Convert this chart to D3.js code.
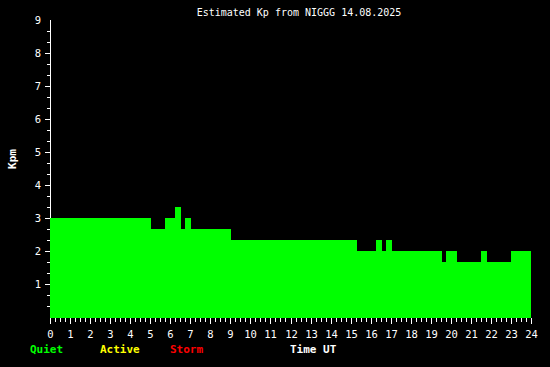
<!DOCTYPE html>
<html><head><meta charset="utf-8">
<script src="https://cdn.jsdelivr.net/npm/d3@7"></script>
<style>
html,body{margin:0;padding:0;background:#000;}
svg{display:block;}
</style></head>
<body>
<script>
// Step breakpoints (hours UT) and Kp value of each step
const stepStarts = [0, 5, 5.75, 6.25, 6.5, 6.75, 7, 9, 15.25, 16.25, 16.5, 16.75, 17, 19.5, 19.75, 20.25, 21.5, 21.75, 23];
const stepEnds   = [5, 5.75, 6.25, 6.5, 6.75, 7, 9, 15.25, 16.25, 16.5, 16.75, 17, 19.5, 19.75, 20.25, 21.5, 21.75, 23, 24];
const kpValues   = [3, 2.67, 3, 3.33, 2.67, 3, 2.67, 2.33, 2, 2.33, 2, 2.33, 2, 1.67, 2, 1.67, 2, 1.67, 2];
const xTickLabels = d3.range(0, 25);
const yTickLabels = [1, 2, 3, 4, 5, 6, 7, 8, 9];
const legendLabels = ["Quiet", "Active", "Storm"];
const legendColors = ["#00ff00", "#ffff00", "#ff0000"];
const titleText = "Estimated Kp from NIGGG 14.08.2025";

const W = 550, H = 367;
const svg = d3.select("body").append("svg").attr("width", W).attr("height", H)
  .style("background", "#000");

const x = d3.scaleLinear().domain([0, 24]).range([50, 531]);
const y = d3.scaleLinear().domain([0, 9]).range([317, 20]);

const mono = "'DejaVu Sans Mono', 'Liberation Mono', monospace";

// y axis line
svg.append("line").attr("x1", 50.5).attr("x2", 50.5).attr("y1", y(9)).attr("y2", y(0))
  .attr("stroke", "#fff").attr("stroke-width", 1);

// y ticks (major + minor thirds)
const yMinor = d3.range(1, 27).map(i => i / 3);
svg.append("g").selectAll("line").data(yMinor).join("line")
  .attr("x1", d => Math.abs(d - Math.round(d)) < 1e-6 ? 45 : 47)
  .attr("x2", 50)
  .attr("y1", d => Math.round(y(d)) + 0.5).attr("y2", d => Math.round(y(d)) + 0.5)
  .attr("stroke", "#fff").attr("stroke-width", 1);

svg.append("g").selectAll("text").data(yTickLabels).join("text")
  .attr("x", 41).attr("y", d => Math.round(y(d)) + 4)
  .attr("text-anchor", "end").attr("fill", "#fff")
  .attr("font-family", mono).attr("font-size", 10.5).text(d => d);

// x ticks every 15 minutes
const xMinor = d3.range(0, 97).map(i => i / 4);
svg.append("g").selectAll("line").data(xMinor).join("line")
  .attr("x1", d => Math.round(x(d)) + 0.5).attr("x2", d => Math.round(x(d)) + 0.5)
  .attr("y1", 318).attr("y2", d => Math.abs(d - Math.round(d)) < 1e-6 ? 324 : 322)
  .attr("stroke", "#fff").attr("stroke-width", 1);

svg.append("g").selectAll("text").data(xTickLabels).join("text")
  .attr("x", d => Math.round(x(d)) + 0.5).attr("y", 338)
  .attr("text-anchor", "middle").attr("fill", "#fff")
  .attr("font-family", mono).attr("font-size", 10.5).text(d => d);

// Kp step fill
const xMax = Math.round(x(24));
svg.append("g").selectAll("rect").data(kpValues).join("rect")
  .attr("x", (d, i) => Math.round(x(stepStarts[i])))
  .attr("width", (d, i) => Math.min(Math.round(x(stepEnds[i])) + 1, xMax) - Math.round(x(stepStarts[i])))
  .attr("y", d => Math.round(y(d)))
  .attr("height", d => 318 - Math.round(y(d)))
  .attr("fill", "#00ff00").attr("shape-rendering", "crispEdges");

// title
svg.append("text").attr("x", 299).attr("y", 16).attr("text-anchor", "middle")
  .attr("fill", "#fff").attr("font-family", mono).attr("font-size", 10).text(titleText);

// y label
svg.append("text").attr("transform", "translate(16,159) rotate(-90)")
  .attr("text-anchor", "middle").attr("fill", "#fff").attr("font-weight", "bold")
  .attr("font-family", mono).attr("font-size", 11).text("Kpm");

// legend
const legendX = [30, 100, 170];
svg.append("g").selectAll("text").data(legendLabels).join("text")
  .attr("x", (d, i) => legendX[i]).attr("y", 353)
  .attr("fill", (d, i) => legendColors[i]).attr("font-weight", "bold")
  .attr("font-family", mono).attr("font-size", 11).text(d => d);

svg.append("text").attr("x", 290).attr("y", 353)
  .attr("fill", "#fff").attr("font-weight", "bold")
  .attr("font-family", mono).attr("font-size", 11).text("Time UT");
</script>
</body></html>
